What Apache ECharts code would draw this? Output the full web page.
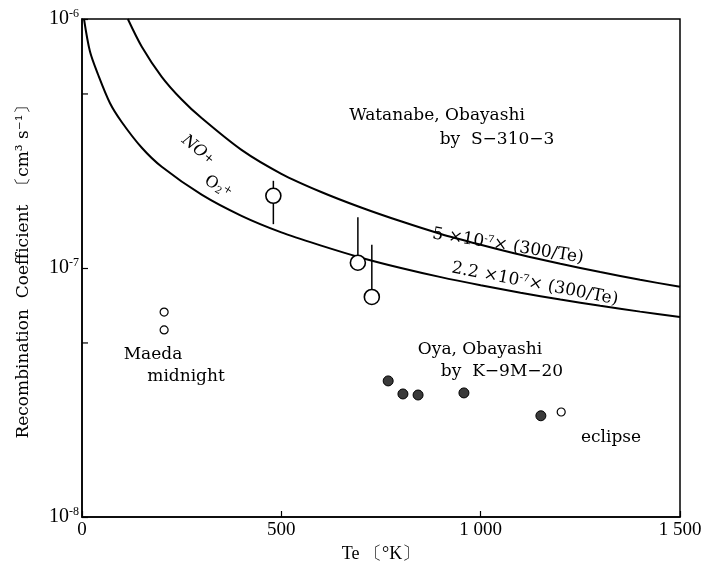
<!DOCTYPE html>
<html><head><meta charset="utf-8">
<script src="https://cdn.jsdelivr.net/npm/echarts@6/dist/echarts.min.js"></script>
<style>html,body{margin:0;padding:0;background:#fff}#c{width:709px;height:571px}</style>
</head><body><div id="c"></div>
<script>
// ---- axis ticks ----
const xTicks = [0, 500, 1000, 1500];
const xTickLabels = ['0', '500', '1 000', '1 500'];
const yMinorTicks = [5e-8, 5e-7];

// ---- NO+ curve : 5×10^-7×(300/Te) ----
const noCurveTe  = [115, 150, 200, 250, 300, 400, 500, 600, 700, 800, 900, 1000, 1100, 1200, 1300, 1400, 1500];
const noCurveVal = [1.0e-6, 7.74e-7, 5.86e-7, 4.75e-7, 4.0e-7, 2.98e-7, 2.39e-7, 2.02e-7, 1.75e-7, 1.54e-7, 1.37e-7, 1.24e-7, 1.13e-7, 1.04e-7, 9.63e-8, 8.97e-8, 8.4e-8];

// ---- O2+ curve : 2.2×10^-7×(300/Te) ----
const o2CurveTe  = [5, 20, 40, 70, 100, 150, 200, 300, 400, 500, 600, 700, 800, 900, 1000, 1100, 1200, 1300, 1400, 1500];
const o2CurveVal = [1.0e-6, 7.4e-7, 6.0e-7, 4.6e-7, 3.85e-7, 3.04e-7, 2.55e-7, 1.97e-7, 1.62e-7, 1.39e-7, 1.23e-7, 1.10e-7, 1.0e-7, 9.19e-8, 8.53e-8, 7.96e-8, 7.47e-8, 7.05e-8, 6.68e-8, 6.35e-8];

// ---- Watanabe, Obayashi by S-310-3 ----
const watTe   = [480, 692, 727];
const watVal  = [1.95e-7, 1.05e-7, 7.65e-8];
const watHigh = [2.24e-7, 1.6e-7, 1.24e-7];
const watLow  = [1.5e-7, 1.05e-7, 7.65e-8];

// ---- Maeda midnight ----
const maedaTe  = [206, 206];
const maedaVal = [6.65e-8, 5.64e-8];

// ---- Oya, Obayashi by K-9M-20 ----
const oyaTe  = [768, 805, 843, 958, 1151];
const oyaVal = [3.52e-8, 3.12e-8, 3.09e-8, 3.15e-8, 2.55e-8];

// ---- eclipse ----
const eclTe  = [1202];
const eclVal = [2.64e-8];

const zip = (a, b) => a.map((v, i) => [v, b[i]]);
const SERIF = '"Liberation Serif", "DejaVu Serif", serif';
const ANN = '"DejaVu Serif", "Liberation Serif", serif';

const chart = echarts.init(document.getElementById('c'), null, {renderer: 'canvas'});

function txt(x, y, rot, text, rich, size) {
  return {
    type: 'text', x: x, y: y, rotation: rot || 0, z: 10,
    style: {
      text: text, rich: rich || undefined,
      font: (size || 17) + 'px ' + ANN, fill: '#000',
      align: 'center', verticalAlign: 'middle',
      textAlign: 'center', textVerticalAlign: 'middle'
    }
  };
}
const fRich = {
  a: {fontSize: 17, fontFamily: ANN, color: '#000'},
  s: {fontSize: 10, fontFamily: ANN, color: '#000', verticalAlign: 'top'}
};

chart.setOption({
  animation: false,
  backgroundColor: '#fff',
  grid: {left: 82, right: 29, top: 19, bottom: 54, show: true, borderColor: '#000', borderWidth: 1.5, backgroundColor: 'transparent'},
  xAxis: {
    type: 'value', min: 0, max: 1500, interval: 500,
    name: 'Te 〔°K〕', nameLocation: 'middle', nameGap: 26,
    nameTextStyle: {fontFamily: SERIF, fontSize: 18, color: '#000'},
    axisLine: {lineStyle: {color: '#000', width: 1.5}},
    axisTick: {inside: true, length: 6, lineStyle: {color: '#000', width: 1.2}},
    axisLabel: {
      margin: 4, fontFamily: SERIF, fontSize: 19, color: '#000',
      formatter: v => { const i = xTicks.indexOf(v); return i >= 0 ? xTickLabels[i] : ''; }
    },
    splitLine: {show: false}
  },
  yAxis: {
    type: 'log', logBase: 10, min: 1e-8, max: 1e-6, interval: 1,
    name: 'Recombination  Coefficient  〔cm³ s⁻¹〕', nameLocation: 'middle', nameGap: 50, nameRotate: 90,
    nameTextStyle: {fontFamily: ANN, fontSize: 17, color: '#000'},
    axisLine: {lineStyle: {color: '#000', width: 1.5}},
    axisTick: {inside: true, length: 6, lineStyle: {color: '#000', width: 1.2}},
    axisLabel: {
      margin: 3, color: '#000', fontSize: 20, fontFamily: SERIF,
      formatter: v => '{b|10}{s|' + Math.round(Math.log10(v)) + '}',
      rich: {
        b: {fontSize: 20, fontFamily: SERIF, color: '#000', lineHeight: 22},
        s: {fontSize: 12, fontFamily: SERIF, color: '#000', verticalAlign: 'top'}
      }
    },
    splitLine: {show: false},
    minorTick: {show: false}
  },
  series: [
    {type: 'line', data: zip(noCurveTe, noCurveVal), smooth: 0.3, symbol: 'none',
     lineStyle: {color: '#000', width: 2}, z: 1},
    {type: 'line', data: zip(o2CurveTe, o2CurveVal), smooth: 0.3, symbol: 'none',
     lineStyle: {color: '#000', width: 2}, z: 1},
    {type: 'custom', z: 2,
     data: watTe.map((t, i) => [t, watLow[i], watHigh[i]]),
     renderItem: (params, api) => {
       const p1 = api.coord([api.value(0), api.value(1)]);
       const p2 = api.coord([api.value(0), api.value(2)]);
       return {type: 'line', shape: {x1: p1[0], y1: p1[1], x2: p2[0], y2: p2[1]},
               style: {stroke: '#000', lineWidth: 1.5}};
     }},
    {type: 'custom', z: 2,
     data: yMinorTicks.map(v => [0, v]),
     renderItem: (params, api) => {
       const p = api.coord([api.value(0), api.value(1)]);
       return {type: 'line', shape: {x1: p[0], y1: p[1], x2: p[0] + 6, y2: p[1]},
               style: {stroke: '#000', lineWidth: 1.2}};
     }},
    {type: 'scatter', name: 'Watanabe, Obayashi', data: zip(watTe, watVal), symbol: 'circle', symbolSize: 15, z: 5,
     itemStyle: {color: '#fff', borderColor: '#000', borderWidth: 1.6, opacity: 1}},
    {type: 'scatter', name: 'Maeda midnight', data: zip(maedaTe, maedaVal), symbol: 'circle', symbolSize: 8, z: 5,
     itemStyle: {color: '#fff', borderColor: '#000', borderWidth: 1.2, opacity: 1}},
    {type: 'scatter', name: 'Oya, Obayashi', data: zip(oyaTe, oyaVal), symbol: 'circle', symbolSize: 10, z: 5,
     itemStyle: {color: '#3a3a3a', borderColor: '#000', borderWidth: 1, opacity: 1}},
    {type: 'scatter', name: 'eclipse', data: zip(eclTe, eclVal), symbol: 'circle', symbolSize: 8, z: 5,
     itemStyle: {color: '#fff', borderColor: '#000', borderWidth: 1.2, opacity: 1}}
  ],
  graphic: [
    txt(198, 150, -0.68, '{a|NO}{p|+}', {a: {fontSize: 16, fontFamily: ANN, color: '#000', fontStyle: 'italic'}, p: {fontSize: 12, fontFamily: ANN, color: '#000'}}),
    txt(218, 187, -0.55, '{a|O}{b|2}{p|+}', {a: {fontSize: 16, fontFamily: ANN, color: '#000'}, b: {fontSize: 10, fontFamily: ANN, color: '#000', verticalAlign: 'bottom'}, p: {fontSize: 11, fontFamily: ANN, color: '#000', verticalAlign: 'top'}}),
    txt(437, 116, 0, 'Watanabe, Obayashi'),
    txt(497, 140, 0, 'by  S−310−3'),
    txt(508, 246, -0.16, '{a|5 ×10}{s|-7}{a|× (300/Te)}', fRich),
    txt(535, 284, -0.19, '{a|2.2 ×10}{s|-7}{a|× (300/Te)}', fRich),
    txt(153, 355, 0, 'Maeda'),
    txt(186, 377, 0, 'midnight'),
    txt(480, 350, 0, 'Oya, Obayashi'),
    txt(502, 372, 0, 'by  K−9M−20'),
    txt(611, 438, 0, 'eclipse')
  ]
});
</script>
</body></html>
